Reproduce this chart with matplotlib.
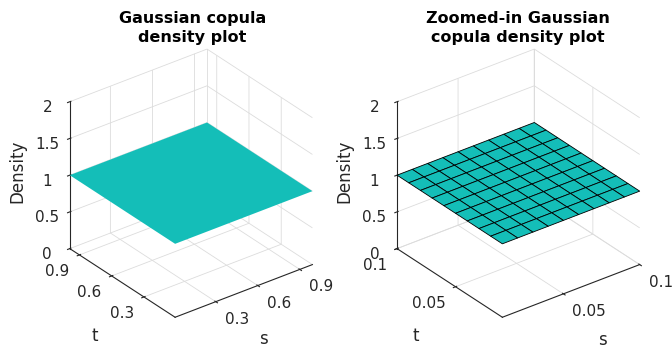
import matplotlib
matplotlib.use('Agg')
import matplotlib.pyplot as plt
from matplotlib.transforms import offset_copy
import numpy as np

# grid points (s, t) and density values
s_full = [0.01, 0.99]
t_full = [0.01, 0.99]
dens_full = [[1.0, 1.0],
             [1.0, 1.0]]

s_zoom = [0.01, 0.02, 0.03, 0.04, 0.05, 0.06, 0.07, 0.08, 0.09, 0.10]
t_zoom = [0.01, 0.02, 0.03, 0.04, 0.05, 0.06, 0.07, 0.08, 0.09, 0.10]
dens_zoom = np.ones((len(t_zoom), len(s_zoom)))

titles = ['Gaussian copula\ndensity plot', 'Zoomed-in Gaussian\ncopula density plot']
ticks_full = [0.3, 0.6, 0.9]
labels_full = ['0.3', '0.6', '0.9']
ticks_zoom = [0.05, 0.1]
labels_zoom = ['0.05', '0.1']
zticks = [0, 0.5, 1, 1.5, 2]
zlabels = ['0', '0.5', '1', '1.5', '2']

face = '#14BEB8'
txt = '#262626'
gridc = '#dcdcdc'

plt.rcParams['font.family'] = 'DejaVu Sans'
plt.rcParams['grid.color'] = gridc
plt.rcParams['grid.linewidth'] = 0.6
plt.rcParams['axes.edgecolor'] = txt
plt.rcParams['axes.linewidth'] = 0.8

fig = plt.figure(figsize=(6.72, 3.51), dpi=100)


def put(ax, x, y, z, text, dx, dy, **kw):
    # text at a 3D point, shifted by (dx, dy) pixels (dy downwards)
    tr = offset_copy(ax.transData, fig=fig, x=dx, y=-dy, units='dots')
    ax.text(x, y, z, text, transform=tr, color=txt, **kw)


def draw(pos, s, t, d, ticks, labels, title, title_x, edges, s_off, t_off):
    ax = fig.add_axes(pos, projection='3d')
    ax.set_proj_type('ortho')
    ax.view_init(elev=30, azim=-127.5)
    ax.set_box_aspect((1, 1, 0.98), zoom=0.915)
    S, T = np.meshgrid(s, t)
    ax.plot_surface(S, T, np.asarray(d), color=face, shade=False,
                    edgecolor='k' if edges else 'none',
                    linewidth=0.6 if edges else 0, rstride=1, cstride=1,
                    antialiased=True)
    ax.set_xlim(s[0], s[-1])
    ax.set_ylim(t[0], t[-1])
    ax.set_zlim(0, 2)
    ax.set_xticks(ticks)
    ax.set_yticks(ticks)
    ax.set_zticks(zticks)
    ax.set_zticklabels(zlabels)
    # s/t tick labels are drawn by hand below
    for axis in (ax.xaxis, ax.yaxis):
        axis.set_tick_params(labelsize=0)
        for lab in axis.get_ticklabels():
            lab.set_visible(False)
        axis.label.set_visible(False)
        axis.get_offset_text().set_visible(False)
    # back corner edge
    ax.plot([s[-1], s[-1]], [t[-1], t[-1]], [0, 2], color=gridc, lw=0.6)
    for axis in (ax.xaxis, ax.yaxis, ax.zaxis):
        axis.set_pane_color((1, 1, 1, 0))
        axis.pane.set_edgecolor('none')
    ax.zaxis.set_tick_params(labelsize=11, colors=txt, pad=3)
    ax.xaxis.set_tick_params(colors=txt)
    ax.yaxis.set_tick_params(colors=txt)
    ax.set_zlabel('Density', fontsize=12, color=txt, labelpad=4.5)
    ax.grid(True)

    # tick labels for s and t, placed like MATLAB does
    for v, lab in zip(ticks, labels):
        put(ax, v, t[0], 0, lab, 9, 10, ha='left', va='top', fontsize=11)
        put(ax, s[0], v, 0, lab, -10, 9, ha='right', va='top', fontsize=11)
    put(ax, (s[0] + s[-1]) / 2, t[0], 0, 's', s_off[0], s_off[1],
        ha='center', va='center', fontsize=12)
    put(ax, s[0], (t[0] + t[-1]) / 2, 0, 't', t_off[0], t_off[1],
        ha='center', va='center', fontsize=12)

    fig.text(title_x, 0.968, title, ha='center', va='top',
             fontsize=11.5, fontweight='bold', linespacing=1.35)
    return ax


draw([0.028, 0.016, 0.5, 0.9], s_full, t_full, dens_full, ticks_full,
     labels_full, titles[0], 192.5 / 672, False, (20, 48), (-28, 53))
draw([0.515, 0.016, 0.5, 0.9], s_zoom, t_zoom, dens_zoom, ticks_zoom,
     labels_zoom, titles[1], 518 / 672, True, (31.5, 49), (-34, 53))

fig.savefig('out.png', dpi=100)
